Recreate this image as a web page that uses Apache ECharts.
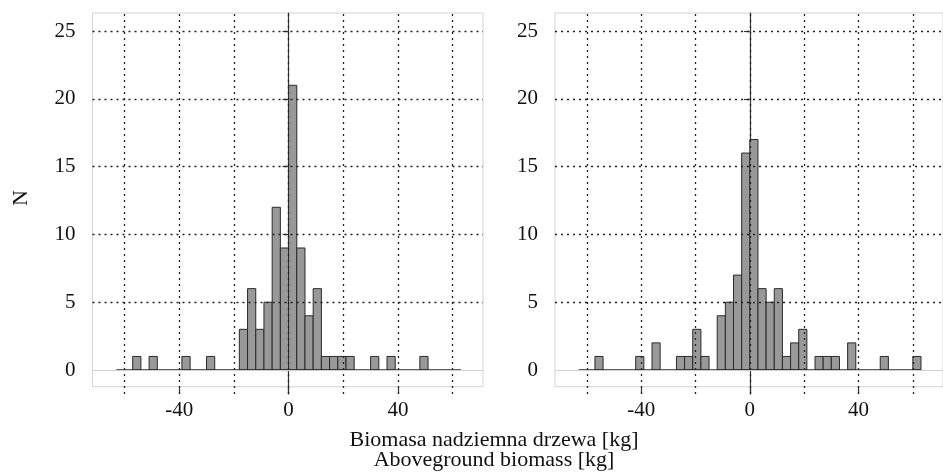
<!DOCTYPE html>
<html>
<head>
<meta charset="utf-8">
<script src="https://cdn.jsdelivr.net/npm/echarts@6/dist/echarts.min.js"></script>
<style>
html,body{margin:0;padding:0;background:#fff;}
#chart{width:943px;height:476px;}
</style>
</head>
<body>
<div id="chart"></div>
<script>
// ---- data ----
const binStart = -63;
const binWidth = 3;
// counts per 3-kg bin from -63 to 63 (42 bins)
const countsLeft = [0,0,1,0,1,0,0,0,1,0,0,1,0,0,0,3,6,3,5,12,9,21,9,4,6,1,1,1,1,0,0,1,0,1,0,0,0,1,0,0,0,0];
const countsRight = [0,0,1,0,0,0,0,1,0,2,0,0,1,1,3,1,0,4,5,7,16,17,6,5,6,1,2,3,0,1,1,1,0,2,0,0,0,1,0,0,0,1];
const yTicks = [0,5,10,15,20,25];
const yGridLines = [5,10,15,20,25];
const xLabelTicks = [-40,0,40];
const xGridLines = [-60,-40,-20,0,20,40,60];
const xTitle = 'Biomasa nadziemna drzewa [kg]\nAboveground biomass [kg]';
const yTitle = 'N';

const FONT = '"Liberation Serif", "DejaVu Serif", serif';
const XMIN = -71.7, XMAX = 71.1;
const YMIN = -1.77, YMAX = 26.33;

function binData(counts){
  return counts.map((c,k)=>[binStart + k*binWidth, binStart + (k+1)*binWidth, c]);
}
function baseline(counts){
  return [[binStart,0],[binStart + counts.length*binWidth,0]];
}
function renderItem(params, api){
  const c = api.value(2);
  if (!c) return null;
  const p0 = api.coord([api.value(0), c]);
  const p1 = api.coord([api.value(1), 0]);
  return {
    type:'rect',
    shape:{x:p0[0], y:p0[1], width:p1[0]-p0[0], height:p1[1]-p0[1]},
    style:{fill:'#999999', stroke:'#2a2a2a', lineWidth:1}
  };
}

const panels = [{left:92.5, counts:countsLeft},{left:555, counts:countsRight}];
const W = 390.5;

const grid = [], xAxis = [], yAxis = [], series = [];
panels.forEach((p,i)=>{
  const f = grid.length;      // frame grid
  grid.push({left:p.left, top:13, width:W, height:373.7, show:true, borderColor:'#d4d4d4', borderWidth:1, backgroundColor:'transparent'});
  const d = grid.length;      // data grid
  grid.push({left:p.left, top:13, width:W, height:381, show:false});

  xAxis.push({gridIndex:f, type:'value', min:XMIN, max:XMAX, position:'bottom',
    axisLine:{show:false},
    axisTick:{show:true, customValues:xLabelTicks, length:7, lineStyle:{color:'#333', width:1.2}},
    axisLabel:{show:true, customValues:xLabelTicks, margin:13, fontFamily:FONT, fontSize:21, color:'#111'},
    splitLine:{show:false}});
  yAxis.push({gridIndex:f, type:'value', min:0, max:1, show:false});

  xAxis.push({gridIndex:d, type:'value', min:XMIN, max:XMAX, show:false});
  yAxis.push({gridIndex:d, type:'value', min:YMIN, max:YMAX, position:'left',
    axisLine:{show:true, lineStyle:{color:'#333', width:1.2}},
    axisTick:{show:true, customValues:yTicks, length:6, lineStyle:{color:'#333', width:1.2}},
    axisLabel:{show:true, customValues:yTicks, margin:17, fontFamily:FONT, fontSize:21, color:'#111'},
    splitLine:{show:false}});

  const xi = xAxis.length-1, yi = yAxis.length-1;
  // light gray zero line
  series.push({type:'line', xAxisIndex:xi, yAxisIndex:yi, data:[], z:1, silent:true,
    markLine:{silent:true, symbol:['none','none'], label:{show:false},
      lineStyle:{type:'solid', color:'#d0d0d0', width:1},
      data:[{yAxis:0}]}});
  // histogram bars
  series.push({type:'custom', xAxisIndex:xi, yAxisIndex:yi, renderItem:renderItem,
    data:binData(p.counts), encode:{x:[0,1], y:2}, z:2, silent:true});
  // baseline + dotted grid
  series.push({type:'line', xAxisIndex:xi, yAxisIndex:yi, data:baseline(p.counts),
    symbol:'none', lineStyle:{color:'#2a2a2a', width:1.3}, z:3, silent:true,
    markLine:{silent:true, symbol:['none','none'], label:{show:false},
      lineStyle:{type:[2,4], color:'#222', width:1.3},
      data:[...xGridLines.map(v=>({xAxis:v})), ...yGridLines.map(v=>({yAxis:v}))]}});
});

const chart = echarts.init(document.getElementById('chart'), null, {renderer:'canvas'});
chart.setOption({
  animation:false,
  backgroundColor:'#ffffff',
  grid:grid, xAxis:xAxis, yAxis:yAxis, series:series,
  graphic:[
    {type:'text', x:494, y:450, style:{text:xTitle, textAlign:'center', textVerticalAlign:'middle',
      font:'22px "Liberation Serif", serif', fill:'#111', lineHeight:20}},
    {type:'text', x:21, y:198, rotation:Math.PI/2, style:{text:yTitle, textAlign:'center', textVerticalAlign:'middle',
      font:'22px "Liberation Serif", serif', fill:'#111'}}
  ]
});
</script>
</body>
</html>
